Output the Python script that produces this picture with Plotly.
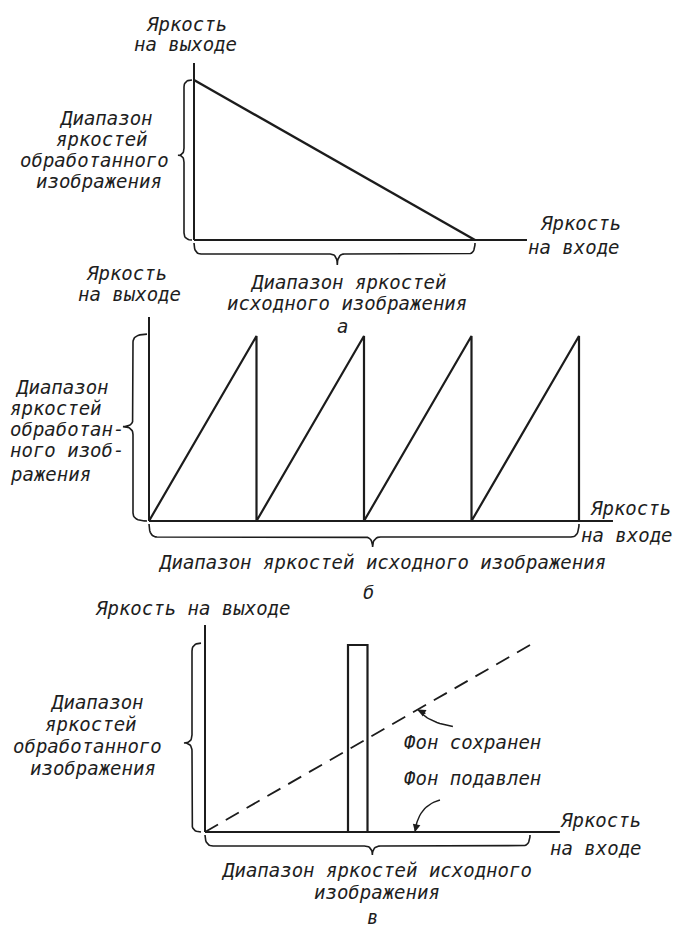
import plotly.graph_objects as go

W, H = 677, 930

# ---------------- data ----------------
# Panel а: inverting transfer curve (input brightness -> output brightness)
a_in = [0.0, 1.0]
a_out = [1.0, 0.0]
a_axis_x_end = 1.185
a_axis_y_end = 1.106

# Panel б: sawtooth (4 teeth across input range)
b_in = [0.0, 0.25, 0.25, 0.5, 0.5, 0.75, 0.75, 1.0, 1.0]
b_out = [0.0, 1.0, 0.0, 1.0, 0.0, 1.0, 0.0, 1.0, 0.0]
b_axis_x_end = 1.079
b_axis_y_end = 1.103

# Panel в: band slicing, background kept / suppressed
c_kept_in = [0.0, 1.0]
c_kept_out = [0.0, 1.0]
c_supp_in = [0.0, 1.0]
c_supp_out = [0.0, 0.0]
c_band_in = [0.44, 0.44, 0.50, 0.50]
c_band_out = [0.0, 1.0, 1.0, 0.0]
c_axis_x_end = 1.092
c_axis_y_end = 1.107

# ---------------- layout / style ----------------
INK = "#1c1c1c"
FONT = dict(family="DejaVu Sans Mono", size=19, color="#1e1e1e", style="italic")

# pixel placement for each panel: origin (ox, oy), scale px/unit, vertical band
panels = {
    "a": dict(ox=194, oy=240, sx=281, sy=160, top=50, bottom=278, ax="x", ay="y"),
    "b": dict(ox=149, oy=521, sx=430, sy=185, top=305, bottom=556, ax="x2", ay="y2"),
    "c": dict(ox=205, oy=832, sx=325, sy=187, top=612, bottom=866, ax="x3", ay="y3"),
}


def bez(p0, c, p1, n=10):
    pts = []
    for i in range(n + 1):
        t = i / n
        x = (1 - t) ** 2 * p0[0] + 2 * (1 - t) * t * c[0] + t ** 2 * p1[0]
        y = (1 - t) ** 2 * p0[1] + 2 * (1 - t) * t * c[1] + t ** 2 * p1[1]
        pts.append((x, y))
    return pts


def vbrace(p, y0, y1, ytip, e, s, t, r):
    """Left brace along y-axis; e,s,t are pixel offsets (negative = left)."""
    rr = r / p["sy"]
    pts = []
    pts += bez((e, y1), (s, y1), (s, y1 - rr))
    pts += [(s, ytip + rr)]
    pts += bez((s, ytip + rr), (s, ytip), (t, ytip))
    pts += bez((t, ytip), (s, ytip), (s, ytip - rr))
    pts += [(s, y0 + rr)]
    pts += bez((s, y0 + rr), (s, y0), (e, y0))
    xs = [q[0] / p["sx"] for q in pts]
    ys = [q[1] for q in pts]
    return xs, ys


def hbrace(p, x0, x1, xtip, e, s, t, r):
    """Brace below x-axis; e,s,t are pixel offsets downward."""
    rr = r / p["sx"]
    pts = []
    pts += bez((x0, e), (x0, s), (x0 + rr, s))
    pts += [(xtip - rr, s)]
    pts += bez((xtip - rr, s), (xtip, s), (xtip, t))
    pts += bez((xtip, t), (xtip, s), (xtip + rr, s))
    pts += [(x1 - rr, s)]
    pts += bez((x1 - rr, s), (x1, s), (x1, e))
    xs = [q[0] for q in pts]
    ys = [-q[1] / p["sy"] for q in pts]
    return xs, ys


def curve_px(p, tail, ctrl, head):
    """Curved leader line given in pixel offsets relative to a data point."""
    pts = bez(tail, ctrl, head, n=14)
    return [q[0] / p["sx"] for q in pts], [q[1] / p["sy"] for q in pts]


fig = go.Figure()


def add_line(p, xs, ys, width=2.2, dash="solid"):
    fig.add_trace(go.Scatter(
        x=xs, y=ys, mode="lines", xaxis=p["ax"], yaxis=p["ay"],
        line=dict(color=INK, width=width, dash=dash), hoverinfo="skip",
        showlegend=False))


# Panel а
pa = panels["a"]
add_line(pa, [0, a_axis_x_end], [0, 0], 2.0)
add_line(pa, [0, 0], [0, a_axis_y_end], 2.0)
add_line(pa, a_in, a_out, 2.4)
add_line(pa, *vbrace(pa, 0, 1, 0.53, -2, -10, -16, 7), width=1.6)
add_line(pa, *hbrace(pa, 0, 1, 0.51, 3, 14, 25, 7), width=1.6)

# Panel б
pb = panels["b"]
add_line(pb, [0, b_axis_x_end], [0, 0], 2.0)
add_line(pb, [0, 0], [0, b_axis_y_end], 2.0)
add_line(pb, b_in, b_out, 2.2)
add_line(pb, *vbrace(pb, 0, 1.01, 0.51, -2, -16, -26, 8), width=1.6)
add_line(pb, *hbrace(pb, 0, 1, 0.52, 3, 16, 26, 8), width=1.6)

# Panel в
pc = panels["c"]
add_line(pc, [0, c_axis_x_end], [0, 0], 2.0)
add_line(pc, [0, 0], [0, c_axis_y_end], 2.0)
add_line(pc, c_kept_in, c_kept_out, 1.8, dash="15px,9px")
add_line(pc, c_supp_in, c_supp_out, 2.2)
add_line(pc, c_band_in, c_band_out, 2.2)
add_line(pc, *vbrace(pc, 0, 1.01, 0.476, -4, -13, -21, 8), width=1.6)
add_line(pc, *hbrace(pc, 0, 1, 0.515, 3, 14, 23, 8), width=1.6)

# curved leaders to "kept" (dashed) and "suppressed" (baseline) curves
kept_head = 0.655
supp_head = 0.646
kx, ky = curve_px(pc, (35, -17), (10, -13), (0, 0))
add_line(pc, [kept_head + v for v in kx], [kept_head + v for v in ky], 1.4)
sx_, sy_ = curve_px(pc, (25, 32), (3, 26), (0, 0))
add_line(pc, [supp_head + v for v in sx_], [0 + v for v in sy_], 1.4)

# axes (invisible; used only as scales)
layout_axes = {}
for i, key in enumerate(["a", "b", "c"]):
    p = panels[key]
    sfx = "" if i == 0 else str(i + 1)
    xr = [(0 - p["ox"]) / p["sx"], (W - p["ox"]) / p["sx"]]
    yr = [(p["oy"] - p["bottom"]) / p["sy"], (p["oy"] - p["top"]) / p["sy"]]
    layout_axes["xaxis" + sfx] = dict(domain=[0, 1], range=xr, visible=False,
                                      anchor="y" + sfx, fixedrange=True)
    layout_axes["yaxis" + sfx] = dict(domain=[1 - p["bottom"] / H, 1 - p["top"] / H],
                                      range=yr, visible=False, anchor="x" + sfx,
                                      fixedrange=True)


def P(x, y):
    return x / W, 1 - y / H


# (text, x px, y px, xanchor)
texts = [
    # panel а
    ("Яркость", 186, 24, "center"),
    ("на выходе", 185, 44, "center"),
    ("Диапазон", 106, 118, "center"),
    ("яркостей", 102, 139, "center"),
    ("обработанного", 95, 160, "center"),
    ("изображения", 99, 181, "center"),
    ("Яркость", 580, 223, "center"),
    ("на входе", 574, 247, "center"),
    ("Диапазон яркостей", 348, 282, "center"),
    ("исходного изображения", 347, 303, "center"),
    ("а", 342, 326, "center"),
    # panel б
    ("Яркость", 126, 273, "center"),
    ("на выходе", 129, 294, "center"),
    ("Диапазон", 13, 387, "left"),
    ("яркостей", 8, 408, "left"),
    ("обработан-", 8, 429, "left"),
    ("ного изоб-", 8, 450, "left"),
    ("ражения", 8, 474, "left"),
    ("Яркость", 630, 508, "center"),
    ("на входе", 627, 535, "center"),
    ("Диапазон яркостей исходного изображения", 382, 562, "center"),
    ("б", 368, 592, "center"),
    # panel в
    ("Яркость на выходе", 192, 608, "center"),
    ("Диапазон", 97, 702, "center"),
    ("яркостей", 91, 724, "center"),
    ("обработанного", 87, 746, "center"),
    ("изображения", 93, 768, "center"),
    ("Фон сохранен", 472, 742, "center"),
    ("Фон подавлен", 472, 778, "center"),
    ("Яркость", 600, 820, "center"),
    ("на входе", 596, 848, "center"),
    ("Диапазон яркостей исходного", 376, 870, "center"),
    ("изображения", 377, 892, "center"),
    ("в", 372, 917, "center"),
]

annotations = []
for txt, x, y, xa in texts:
    px, py = P(x, y)
    annotations.append(dict(text=txt, x=px, y=py, xref="paper", yref="paper",
                            xanchor=xa, yanchor="middle", align=xa,
                            showarrow=False, font=FONT))

# arrowheads at the ends of the curved leaders
annotations.append(dict(x=kept_head, y=kept_head, xref="x3", yref="y3", text="",
                        showarrow=True, arrowhead=2, arrowsize=1.1, arrowwidth=1.4,
                        arrowcolor=INK, ax=9, ay=5))
annotations.append(dict(x=supp_head, y=0.0, xref="x3", yref="y3", text="",
                        showarrow=True, arrowhead=2, arrowsize=1.1, arrowwidth=1.4,
                        arrowcolor=INK, ax=2, ay=-9))

fig.update_layout(
    width=W, height=H,
    margin=dict(l=0, r=0, t=0, b=0),
    paper_bgcolor="white", plot_bgcolor="white",
    showlegend=False,
    annotations=annotations,
    **layout_axes,
)

fig.write_html("out.html", config={"displayModeBar": False},
               post_script="document.body.style.margin='0px';"
                           "document.body.style.overflow='hidden';")
